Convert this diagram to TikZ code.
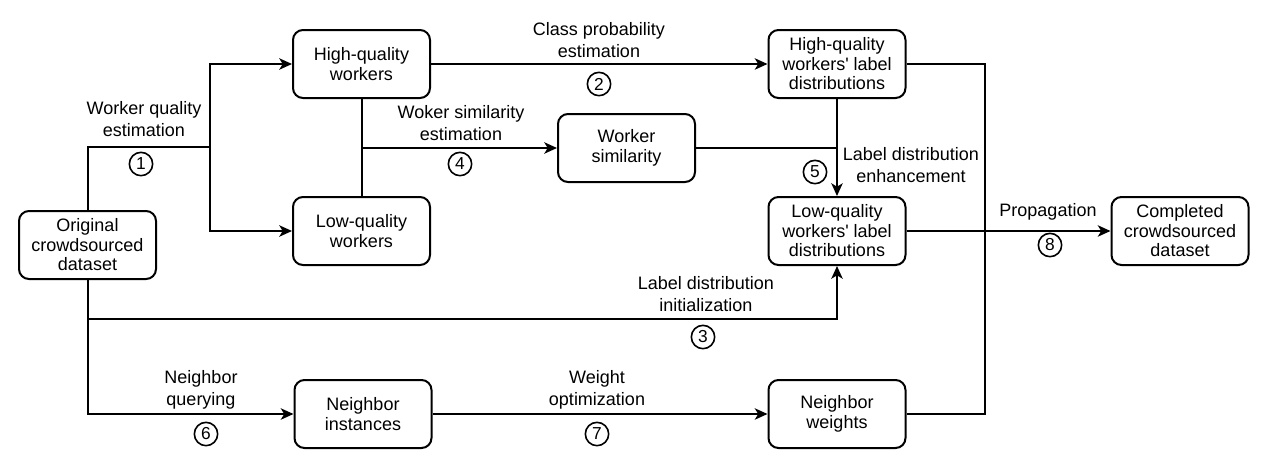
\documentclass[tikz,border=0pt]{standalone}
\usepackage{fontspec}
\setmainfont{Liberation Sans}[Ligatures=TeXOff]
\usetikzlibrary{arrows.meta}
\tikzset{
  box/.style={draw, line width=1.5pt, rounded corners=7.5pt, minimum width=102.75pt, minimum height=51pt, align=center, inner sep=1pt, font=\fontsize{13.5pt}{14.6pt}\selectfont},
  lbl/.style={align=center, inner sep=0pt, font=\fontsize{13.5pt}{16pt}\selectfont},
  circ/.style={circle, draw, line width=1.2pt, minimum size=17.5pt, inner sep=0pt, font=\fontsize{13pt}{13pt}\selectfont},
  conn/.style={line width=1.5pt},
  arr/.style={conn, -{Stealth[length=9.5pt, width=8.5pt, inset=2.5pt]}}
}
\begin{document}
\begin{tikzpicture}[x=0.75pt, y=-0.75pt]
\useasboundingbox (0,0) rectangle (1268,465);
% nodes
\node[box] (orig) at (87.5,245) {Original\\crowdsourced\\dataset};
\node[box] (hqw) at (361.5,64) {High-quality\\workers};
\node[box] (lqw) at (361.5,231) {Low-quality\\workers};
\node[box] (ws) at (626.5,148) {Worker\\similarity};
\node[box] (hqld) at (837,64) {High-quality\\workers' label\\distributions};
\node[box] (lqld) at (837,231) {Low-quality\\workers' label\\distributions};
\node[box] (comp) at (1180,231) {Completed\\crowdsourced\\dataset};
\node[box] (ni) at (363,414) {Neighbor\\instances};
\node[box] (nw) at (837,414) {Neighbor\\weights};
% junctions
\coordinate (j1) at (210,147);
\coordinate (j3) at (87.5,319);
\coordinate (jr) at (985,64);
% connectors
\draw[conn] (orig.north) |- (j1);
\draw[arr] (j1) |- (hqw.west);
\draw[arr] (j1) |- (lqw.west);
\draw[arr] (hqw.east) -- (hqld.west);
\draw[conn] (hqw.south) -- (lqw.north);
\draw[arr] (hqw.south |- ws.west) -- (ws.west);
\draw[conn] (ws.east) -- (ws.east -| hqld.south);
\draw[arr] (hqld.south) -- (lqld.north);
\draw[conn] (hqld.east) -- (jr) |- (nw.east);
\draw[arr] (lqld.east) -- (comp.west);
\draw[arr] (orig.south) |- (ni.west);
\draw[arr] (j3) -| (lqld.south);
\draw[arr] (ni.east) -- (nw.west);
% labels
\node[lbl] (l1) at (144,119) {Worker quality\\estimation};
\node[circ] (c1) at (141,164) {1};
\node[lbl] (l2) at (599,40) {Class probability\\estimation};
\node[circ] (c2) at (599,84) {2};
\node[lbl] (l4) at (461,123) {Woker similarity\\estimation};
\node[circ] (c4) at (460,164) {4};
\node[lbl] (l5) at (911,165) {Label distribution\\enhancement};
\node[circ] (c5) at (815,172) {5};
\node[lbl] (l8) at (1048,212) {Propagation};
\node[circ] (c8) at (1050,245) {8};
\node[lbl] (l3) at (706,294) {Label distribution\\initialization};
\node[circ] (c3) at (703,337) {3};
\node[lbl] (l6) at (201,390) {Neighbor\\querying};
\node[circ] (c6) at (206,434) {6};
\node[lbl] (l7) at (597,390) {Weight\\optimization};
\node[circ] (c7) at (597,434) {7};
\end{tikzpicture}
\end{document}
